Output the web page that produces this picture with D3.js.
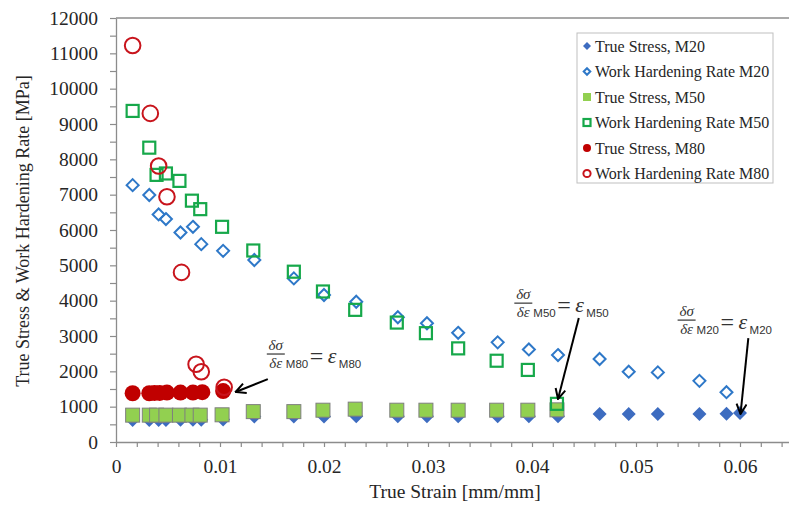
<!DOCTYPE html>
<html>
<head>
<meta charset="utf-8">
<script src="https://cdn.jsdelivr.net/npm/d3@7"></script>
<style>
body{margin:0;background:#fff;}
svg{display:block;}
</style>
</head>
<body>
<div id="chart"></div>
<script>
// M20
var strainM20 = [0.0016,0.0032,0.0041,0.0048,0.0062,0.0074,0.0082,0.0103,0.0133,0.0171,0.0200,0.0231,0.0271,0.0299,0.0329,0.0367,0.0397,0.0425,0.0465,0.0493,0.0521,0.0561,0.0587,0.0600];
var stressM20 = [620,620,620,620,630,630,630,640,720,720,720,730,730,730,730,730,730,730,790,790,790,790,800,820];
var whrM20 = [7270,6990,6440,6310,5930,6090,5600,5410,5150,4630,4160,3970,3530,3360,3090,2820,2620,2460,2350,1990,1970,1730,1410];
// M50
var strainM50 = [0.0016,0.0032,0.0039,0.0048,0.0061,0.0073,0.0081,0.0102,0.0132,0.0171,0.0199,0.0230,0.0270,0.0298,0.0329,0.0366,0.0396,0.0424];
var stressM50 = [760,760,760,760,760,760,760,770,860,860,900,930,900,900,900,900,900,910];
var whrM50 = [9370,8330,7560,7600,7390,6830,6590,6090,5420,4820,4260,3740,3380,3080,2650,2300,2040,1080];
// M80
var strainM80 = [0.0016,0.0032,0.0037,0.0042,0.0049,0.0062,0.0074,0.0083,0.0103];
var stressM80 = [1380,1380,1390,1390,1400,1400,1400,1410,1440];
var whrStrainM80 = [0.0016,0.0033,0.0041,0.0049,0.0063,0.0077,0.0082,0.0104];
var whrM80 = [11220,9300,7810,6940,4800,2200,1990,1550];

var xTicks = [0,0.01,0.02,0.03,0.04,0.05,0.06];
var yTicks = [0,1000,2000,3000,4000,5000,6000,7000,8000,9000,10000,11000,12000];
var legendLabels = ["True Stress, M20","Work Hardening Rate M20","True Stress, M50","Work Hardening Rate M50","True Stress, M80","Work Hardening Rate M80"];

// annotations: dσ/dε = ε, position in data units
var noteLabels = ["M80","M50","M20"];
var noteX = [0.0145,0.0383,0.0540];
var noteY = [2490,3930,3450];
var arrowFrom = [[0.0146,1780],[0.0445,3510],[0.0608,2940]];
var arrowTo = [[0.0115,1415],[0.0425,1217],[0.06005,792]];

var W = 789, H = 506;
var serif = "'Liberation Serif','Times New Roman',serif";
var sans = "'Liberation Sans',Arial,sans-serif";

var svg = d3.select("#chart").append("svg").attr("width", W).attr("height", H);

var x = d3.scaleLinear().domain([0,0.065]).range([116,792]);
var y = d3.scaleLinear().domain([0,12000]).range([442,18]);

var axisColor = "#8c8c8c";

// top border of plot area
svg.append("line")
	.attr("x1", x(0)).attr("x2", W)
	.attr("y1", y(12000)).attr("y2", y(12000))
	.style("stroke", axisColor).style("stroke-width", 1.3);

var xAxis = svg.append("g").attr("transform", "translate(0," + y(0) + ")")
	.call(d3.axisBottom(x).tickValues(d3.range(0, 0.0645, 0.002)).tickSize(5).tickSizeOuter(0).tickPadding(12)
		.tickFormat(function(d){
			var i = xTicks.findIndex(function(t){return Math.abs(t-d) < 1e-6;});
			return i >= 0 ? (i == 0 ? "0" : d3.format(".2f")(xTicks[i])) : "";
		}));

var yAxis = svg.append("g").attr("transform", "translate(" + x(0) + ",0)")
	.call(d3.axisLeft(y).tickValues(d3.range(0, 12001, 500)).tickSize(6).tickSizeOuter(0).tickPadding(12)
		.tickFormat(function(d){return yTicks.indexOf(d) >= 0 ? d : "";}));

[xAxis, yAxis].forEach(function(a){
	a.select(".domain").style("stroke", axisColor).style("stroke-width", 1.3);
	a.selectAll(".tick line").style("stroke", axisColor).style("stroke-width", 1.2);
	a.selectAll(".tick text").style("font-family", serif).style("font-size", "19.5px").style("fill", "#262626");
});

svg.append("text")
	.attr("x", 455).attr("y", 498)
	.attr("text-anchor", "middle")
	.style("font-family", serif).style("font-size", "19.5px").style("fill", "#262626")
	.text("True Strain [mm/mm]");

svg.append("text")
	.attr("transform", "translate(29,231) rotate(-90)")
	.attr("text-anchor", "middle")
	.style("font-family", serif).style("font-size", "18px").style("fill", "#262626")
	.text("True Stress & Work Hardening Rate [MPa]");

function diamond(r){
	return "M0," + (-r) + "L" + r + ",0L0," + r + "L" + (-r) + ",0Z";
}

function zip(xs, ys){
	return ys.map(function(v, i){return {x: xs[i], y: v};});
}

var plot = svg.append("g");

// True Stress M20
plot.selectAll(".m20s").data(zip(strainM20, stressM20)).enter()
	.append("path").attr("class", "m20s")
	.attr("d", diamond(7))
	.attr("transform", function(d){return "translate(" + x(d.x) + "," + y(d.y) + ")";})
	.style("fill", "#3d6cc0");

// WHR M20
plot.selectAll(".m20w").data(zip(strainM20, whrM20)).enter()
	.append("path").attr("class", "m20w")
	.attr("d", diamond(6))
	.attr("transform", function(d){return "translate(" + x(d.x) + "," + y(d.y) + ")";})
	.style("fill", "none").style("stroke", "#2e78c8").style("stroke-width", 2);

// True Stress M50
plot.selectAll(".m50s").data(zip(strainM50, stressM50)).enter()
	.append("rect").attr("class", "m50s")
	.attr("x", function(d){return x(d.x) - 7;})
	.attr("y", function(d){return y(d.y) - 7;})
	.attr("width", 14).attr("height", 14)
	.style("fill", "#92d050").style("stroke", "#7f7f7f").style("stroke-width", 1);

// WHR M50
plot.selectAll(".m50w").data(zip(strainM50, whrM50)).enter()
	.append("rect").attr("class", "m50w")
	.attr("x", function(d){return x(d.x) - 6;})
	.attr("y", function(d){return y(d.y) - 6;})
	.attr("width", 12).attr("height", 12)
	.style("fill", "none").style("stroke", "#16a84a").style("stroke-width", 2.2);

// True Stress M80
plot.selectAll(".m80s").data(zip(strainM80, stressM80)).enter()
	.append("circle").attr("class", "m80s")
	.attr("cx", function(d){return x(d.x);})
	.attr("cy", function(d){return y(d.y);})
	.attr("r", 8)
	.style("fill", "#c00000");

// WHR M80
plot.selectAll(".m80w").data(zip(whrStrainM80, whrM80)).enter()
	.append("circle").attr("class", "m80w")
	.attr("cx", function(d){return x(d.x);})
	.attr("cy", function(d){return y(d.y);})
	.attr("r", 7.8)
	.style("fill", "none").style("stroke", "#c8141c").style("stroke-width", 2);

// arrows
svg.append("defs").append("marker")
	.attr("id", "head")
	.attr("viewBox", "0 0 12 12")
	.attr("refX", 11).attr("refY", 6)
	.attr("markerWidth", 12).attr("markerHeight", 12)
	.attr("markerUnits", "userSpaceOnUse")
	.attr("orient", "auto")
	.append("path")
	.attr("d", "M1,1 L11,6 L1,11")
	.style("fill", "none").style("stroke", "#000").style("stroke-width", 2);

svg.selectAll(".arrow").data(arrowFrom).enter()
	.append("line").attr("class", "arrow")
	.attr("x1", function(d){return x(d[0]);})
	.attr("y1", function(d){return y(d[1]);})
	.attr("x2", function(d, i){return x(arrowTo[i][0]);})
	.attr("y2", function(d, i){return y(arrowTo[i][1]);})
	.style("stroke", "#000").style("stroke-width", 2)
	.attr("marker-end", "url(#head)");

// dσ/dε = ε labels
noteLabels.forEach(function(lab, i){
	var x0 = x(noteX[i]), yb = y(noteY[i]);
	var g = svg.append("g").style("fill", "#333");
	g.append("text").attr("x", x0 + 9).attr("y", yb - 4).attr("text-anchor", "middle")
		.style("font-family", serif).style("font-style", "italic").style("font-size", "15px").text("δσ");
	g.append("line").attr("x1", x0).attr("x2", x0 + 18).attr("y1", yb).attr("y2", yb)
		.style("stroke", "#333").style("stroke-width", 1.2);
	g.append("text").attr("x", x0 + 9).attr("y", yb + 14).attr("text-anchor", "middle")
		.style("font-family", serif).style("font-style", "italic").style("font-size", "15px").text("δε");
	g.append("text").attr("x", x0 + 19).attr("y", yb + 14)
		.style("font-family", sans).style("font-size", "11.5px").text(lab);
	g.append("text").attr("x", x0 + 43).attr("y", yb + 10)
		.style("font-family", serif).style("font-size", "24px").text("=");
	g.append("text").attr("x", x0 + 61).attr("y", yb + 9)
		.style("font-family", serif).style("font-style", "italic").style("font-size", "22px").text("ε");
	g.append("text").attr("x", x0 + 72).attr("y", yb + 14)
		.style("font-family", sans).style("font-size", "11.5px").text(lab);
});

// legend
var legend = svg.append("g");
legend.append("rect")
	.attr("x", 577).attr("y", 33).attr("width", 196).attr("height", 150)
	.style("fill", "#fff").style("stroke", "#bfbfbf").style("stroke-width", 1);

var rows = legend.selectAll(".row").data(legendLabels).enter()
	.append("g").attr("class", "row")
	.attr("transform", function(d, i){return "translate(587," + (46 + i*25.5) + ")";});

rows.append("text")
	.attr("x", 8).attr("y", 5.5)
	.style("font-family", serif).style("font-size", "16px").style("fill", "#262626")
	.text(function(d){return d;});

rows.each(function(d, i){
	var r = d3.select(this);
	if(i == 0) r.append("path").attr("d", diamond(4)).style("fill", "#3d6cc0");
	if(i == 1) r.append("path").attr("d", diamond(3.3)).style("fill", "none").style("stroke", "#2e78c8").style("stroke-width", 2);
	if(i == 2) r.append("rect").attr("x", -4).attr("y", -4).attr("width", 8).attr("height", 8).style("fill", "#92d050");
	if(i == 3) r.append("rect").attr("x", -3.5).attr("y", -3.5).attr("width", 7).attr("height", 7).style("fill", "none").style("stroke", "#16a84a").style("stroke-width", 2.2);
	if(i == 4) r.append("circle").attr("r", 4).style("fill", "#c00000");
	if(i == 5) r.append("circle").attr("r", 3.6).style("fill", "none").style("stroke", "#c8141c").style("stroke-width", 2);
});
</script>
</body>
</html>
